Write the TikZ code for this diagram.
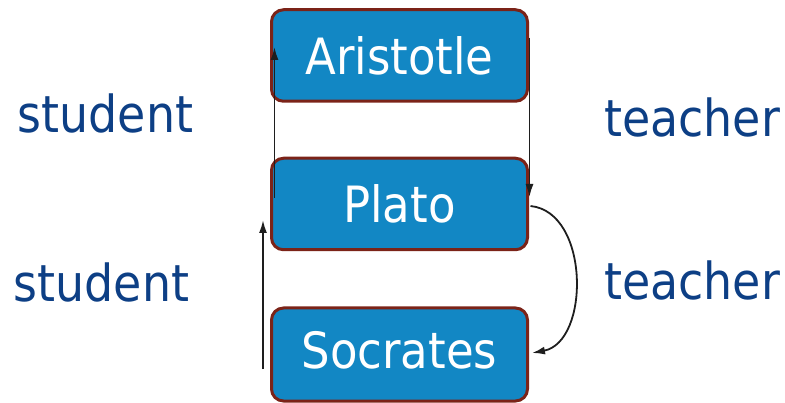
\documentclass[tikz,border=0pt]{standalone}
\usepackage{fontspec}
\setmainfont{DejaVu Sans Condensed}
\usepackage{xcolor}
\usepackage{tikz}
\usetikzlibrary{arrows.meta, positioning}

\definecolor{boxblue}{HTML}{1287C4}
\definecolor{boxrim}{HTML}{7B2318}
\definecolor{rolecol}{HTML}{0D3F85}
\definecolor{linkcol}{HTML}{1E1E1E}

\begin{document}
\begin{tikzpicture}[
        x=1pt, y=1pt,
        person/.style={rectangle, rounded corners=12pt, draw=boxrim, line width=3pt, fill=boxblue,
            minimum width=256pt, minimum height=91.5pt, text=white, text height=38pt, text depth=0pt,
            font=\fontsize{50}{60}\selectfont},
        role/.style={anchor=base, text=rolecol, font=\fontsize{51}{61}\selectfont},
        relation/.style={-{Latex[length=13pt, width=8pt]}, line width=1.8pt, draw=linkcol}
    ]
        \useasboundingbox (0,0) rectangle (785,402);

        % Chain of people
        \node[person] (aristotle) at (399.5, 346.5) {Aristotle};
        \node[person] (plato) at (399.5, 198) {Plato};
        \node[person, text depth=11pt, minimum height=93pt] (socrates) at (399.5, 47.5) {Socrates};

        % Side labels
        \node[role] (student1) at (105.5, 269) {student};
        \node[role] (teacher1) at (692, 265) {teacher};
        \node[role] (student2) at (101.5, 100.3) {student};
        \node[role] (teacher2) at (692, 102) {teacher};

        % Relationships
        \draw[relation] ([shift={(4.5pt,6pt)}]plato.west) -- ([shift={(4.5pt,8.5pt)}]aristotle.west);
        \draw[relation] ([shift={(0.5pt,17.5pt)}]aristotle.east) -- ([shift={(0.5pt,7pt)}]plato.east);
        \draw[relation] ([shift={(-7pt,-14.5pt)}]socrates.west) -- ([shift={(-7pt,-16pt)}]plato.west);
        \draw[relation] ([shift={(1.5pt,-2pt)}]plato.east) .. controls (590,190) and (590,60) .. ([shift={(3pt,1.5pt)}]socrates.east);
    \end{tikzpicture}
\end{document}
